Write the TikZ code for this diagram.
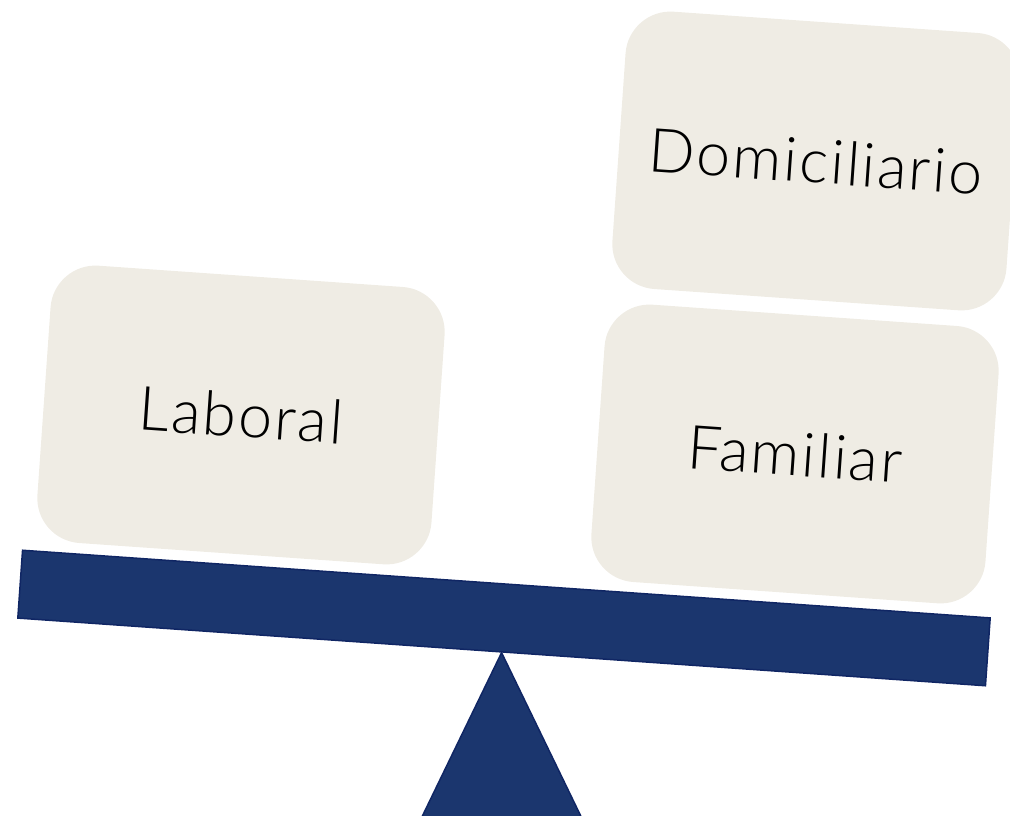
\documentclass[tikz,border=0pt]{standalone}
\usepackage{fontspec}
\setmainfont{Lato}[UprightFont={* Light}]
\usetikzlibrary{positioning}
\definecolor{beam blue}{RGB}{27,54,110}
\definecolor{beam edge}{RGB}{16,38,100}
\definecolor{box beige}{RGB}{239,236,228}

\begin{document}
\begin{tikzpicture}[x=1pt,y=1pt,
  weight box/.style={rectangle,rounded corners=45pt,fill=box beige,rotate=-4,
    minimum width=395pt,minimum height=278pt,
    font=\fontsize{61}{70}\selectfont\addfontfeature{LetterSpace=3.5}},
  bar/.style={fill=beam blue,draw=beam edge,line width=1.5pt}]
   \useasboundingbox (0,0) rectangle (1010,815);
   \node[weight box] (lab) at (241,400) {Laboral};
   \node[weight box] (fam) at (795,361) {Familiar};
   \node[weight box] (dom) at (816,654) {Domiciliario};
   \node[bar,rectangle,rotate=-4,minimum width=970pt,minimum height=68pt,inner sep=0pt] (beam) at (504,197) {};
   \path[bar] (beam.south) -- ++(-80,-165) -- ++(160,0) -- cycle;
\end{tikzpicture}
\end{document}
